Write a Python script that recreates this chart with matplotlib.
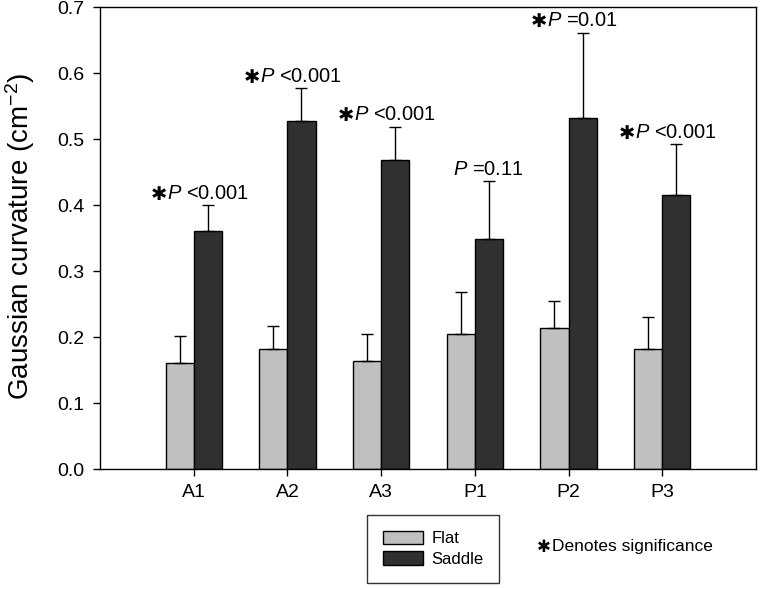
import numpy as np
import matplotlib
matplotlib.use('Agg')
import matplotlib.pyplot as plt
from matplotlib.patches import Patch

plt.rcParams['font.family'] = ['Liberation Sans', 'DejaVu Sans']
plt.rcParams['mathtext.fontset'] = 'custom'
plt.rcParams['mathtext.rm'] = 'Liberation Sans'
plt.rcParams['mathtext.it'] = 'Liberation Sans:italic'

# data
groups = ['A1', 'A2', 'A3', 'P1', 'P2', 'P3']
flat_mean = [0.161, 0.182, 0.163, 0.205, 0.213, 0.182]
flat_err = [0.041, 0.034, 0.042, 0.063, 0.042, 0.048]
saddle_mean = [0.360, 0.527, 0.468, 0.349, 0.532, 0.415]
saddle_err = [0.040, 0.050, 0.051, 0.087, 0.129, 0.077]
p_text = ['<0.001', '<0.001', '<0.001', '=0.11', '=0.01', '<0.001']
signif = [True, True, True, False, True, True]

flat_col = '#c0c0c0'
saddle_col = '#303030'
star = '\u2731'

fig = plt.figure(figsize=(7.6, 5.9), dpi=100)
ax = fig.add_axes([0.1316, 0.205, 0.8631, 0.783])

x = np.arange(len(groups))
w = 0.3
ax.bar(x - w/2, flat_mean, w, color=flat_col, edgecolor='black', linewidth=1, label='Flat')
ax.bar(x + w/2, saddle_mean, w, color=saddle_col, edgecolor='black', linewidth=1, label='Saddle')
ax.errorbar(x - w/2, flat_mean, yerr=[np.zeros(len(x)), flat_err], fmt='none',
            ecolor='black', elinewidth=1, capsize=4, capthick=1)
ax.errorbar(x + w/2, saddle_mean, yerr=[np.zeros(len(x)), saddle_err], fmt='none',
            ecolor='black', elinewidth=1, capsize=4, capthick=1)

# p-value labels above saddle bars
for i in range(len(groups)):
    top = saddle_mean[i] + saddle_err[i]
    t = ax.text(x[i] + w/2, top + 0.018, r'$\mathit{P}$ ' + p_text[i],
                ha='center', va='center', fontsize=14.5)
    if signif[i]:
        ax.annotate(star, xy=(0, 0.45), xycoords=t, ha='right', va='center',
                    fontsize=14, family='DejaVu Sans')

ax.set_xlim(-1, 6)
ax.set_ylim(0, 0.7)
ax.set_xticks(x)
ax.set_xticklabels(groups)
ax.set_yticks(np.arange(0, 0.71, 0.1))
ax.set_yticklabels(['%.1f' % v for v in np.arange(0, 0.71, 0.1)])
ax.tick_params(axis='x', length=5, pad=6, labelsize=14, width=1)
ax.tick_params(axis='y', length=5, pad=6, labelsize=14, width=1)
for s in ax.spines.values():
    s.set_linewidth(1)

fig.text(0.026, 0.6, r'Gaussian curvature (cm$^{\mathrm{-2}}$)', rotation=90,
         ha='center', va='center', fontsize=20)

handles = [Patch(facecolor=flat_col, edgecolor='black', label='Flat'),
           Patch(facecolor=saddle_col, edgecolor='black', label='Saddle')]
leg = fig.legend(handles=handles, loc='upper left', bbox_to_anchor=(367/760, 1 - 515/590),
                 fontsize=12, frameon=True, fancybox=False, edgecolor='black',
                 handlelength=2.4, handleheight=0.85, handletextpad=0.5,
                 labelspacing=0.3, borderpad=0.95, borderaxespad=0)
leg.get_frame().set_linewidth(1)

fig.text(537/760, 1 - 547/590, star, ha='left', va='center', fontsize=12, family='DejaVu Sans')
fig.text(552/760, 1 - 547/590, 'Denotes significance', ha='left', va='center', fontsize=12.5)

fig.savefig('out.png', dpi=100)
